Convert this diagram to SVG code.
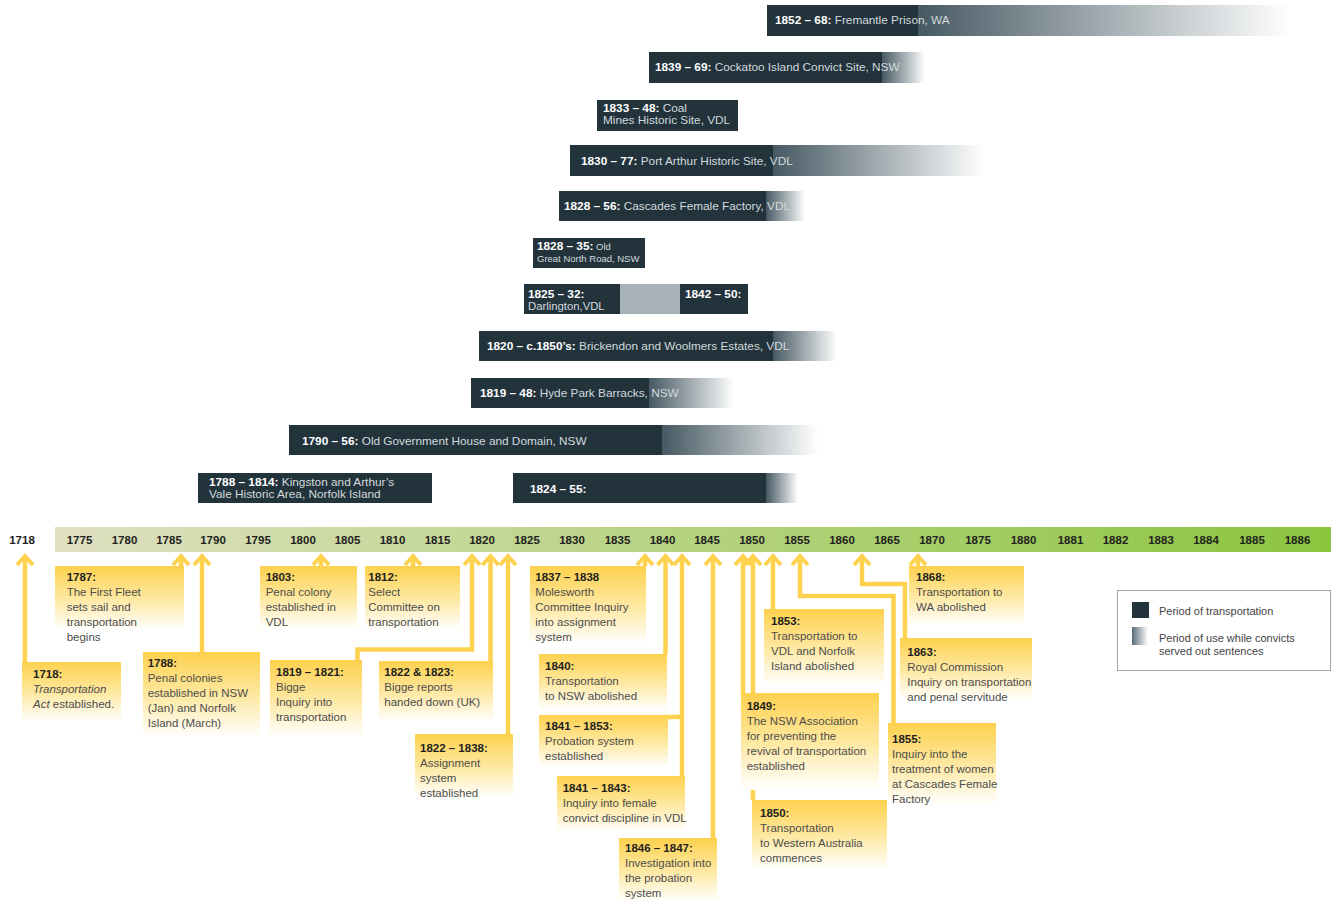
<svg xmlns="http://www.w3.org/2000/svg" width="1334" height="904" viewBox="0 0 1334 904">
<style>
text{font-family:"Liberation Sans",Arial,sans-serif}
.bar{fill:#22333c}
.fade{fill:url(#barFade)}
.bt{font-size:11.8px;fill:#d3dadd}
.bt .b{font-weight:bold;fill:#ffffff}
.bt.sm{font-size:9.5px}
.bt .sm{font-size:9.5px}
.bt.md{font-size:11.3px}
.ax{font-size:11.5px;font-weight:bold;fill:#231f20;text-anchor:middle}
.box{fill:url(#boxFade)}
.ct{font-size:11.5px;fill:#4d4d4d}
.ct .h{font-weight:bold;fill:#231f20}
.ct .i{font-style:italic}
.con{fill:none;stroke:#fed24f;stroke-width:4.5;stroke-linejoin:miter;marker-start:url(#arr)}
.leg{font-size:11px;fill:#444}
</style>
<defs>
<linearGradient id="barFade" x1="0" y1="0" x2="1" y2="0">
<stop offset="0" stop-color="#465963"/>
<stop offset="1" stop-color="#ffffff"/>
</linearGradient>
<linearGradient id="boxFade" x1="0" y1="0" x2="0" y2="1">
<stop offset="0" stop-color="#fed14d"/>
<stop offset="0.55" stop-color="#feeaa8"/>
<stop offset="1" stop-color="#ffffff"/>
</linearGradient>
<linearGradient id="axisGrad" x1="0" y1="0" x2="1" y2="0">
<stop offset="0" stop-color="#dfe0c1"/>
<stop offset="1" stop-color="#8bc53f"/>
</linearGradient>
<linearGradient id="legFade" x1="0" y1="0" x2="1" y2="0">
<stop offset="0" stop-color="#5a6c78"/>
<stop offset="1" stop-color="#ffffff"/>
</linearGradient>
<marker id="arr" markerUnits="userSpaceOnUse" orient="auto-start-reverse" refX="0" refY="0" markerWidth="20" markerHeight="20" overflow="visible">
<path d="M-9,-8 L0,0 L-9,8" fill="none" stroke="#fed24f" stroke-width="4"/>
</marker>
</defs>

<!-- Bars -->
<g id="bar-fremantle">
<rect class="bar" x="767" y="5" width="151" height="31"/>
<rect class="fade" x="918" y="5" width="372" height="31"/>
<text class="bt" x="775" y="24"><tspan class="b">1852 – 68:</tspan> Fremantle Prison, WA</text>
</g>
<g id="bar-cockatoo">
<rect class="bar" x="649" y="52" width="233" height="31"/>
<rect class="fade" x="882" y="52" width="43" height="31"/>
<text class="bt" x="655" y="71"><tspan class="b">1839 – 69:</tspan> Cockatoo Island Convict Site, NSW</text>
</g>
<g id="bar-coalmines">
<rect class="bar" x="597" y="100" width="141" height="31"/>
<text class="bt" x="603" y="111.5"><tspan class="b">1833 – 48:</tspan> Coal</text>
<text class="bt" x="603" y="123.5">Mines Historic Site, VDL</text>
</g>
<g id="bar-portarthur">
<rect class="bar" x="570" y="145" width="203" height="31"/>
<rect class="fade" x="773" y="145" width="212" height="31"/>
<text class="bt" x="581" y="165"><tspan class="b">1830 – 77:</tspan> Port Arthur Historic Site, VDL</text>
</g>
<g id="bar-cascades">
<rect class="bar" x="559" y="191" width="207" height="30"/>
<rect class="fade" x="766" y="191" width="39" height="30"/>
<text class="bt" x="564" y="210"><tspan class="b">1828 – 56:</tspan> Cascades Female Factory, VDL</text>
</g>
<g id="bar-greatnorthroad">
<rect class="bar" x="533" y="238" width="112" height="30"/>
<text class="bt" x="537" y="250"><tspan class="b">1828 – 35:</tspan><tspan class="sm"> Old</tspan></text>
<text class="bt sm" x="537" y="262">Great North Road, NSW</text>
</g>
<g id="bar-darlington">
<rect class="bar" x="524" y="284" width="96" height="30"/>
<rect x="620" y="284" width="60" height="30" fill="#a8b3b9"/>
<rect class="bar" x="680" y="284" width="68" height="30"/>
<text class="bt" x="528" y="298"><tspan class="b">1825 – 32:</tspan></text>
<text class="bt md" x="528" y="310">Darlington,VDL</text>
<text class="bt" x="685" y="298"><tspan class="b">1842 – 50:</tspan></text>
</g>
<g id="bar-brickendon">
<rect class="bar" x="479" y="331" width="294" height="30"/>
<rect class="fade" x="773" y="331" width="64" height="30"/>
<text class="bt" x="487" y="350"><tspan class="b">1820 – c.1850’s:</tspan> Brickendon and Woolmers Estates, VDL</text>
</g>
<g id="bar-hydepark">
<rect class="bar" x="471" y="378" width="178" height="30"/>
<rect class="fade" x="649" y="378" width="85" height="30"/>
<text class="bt" x="480" y="397"><tspan class="b">1819 – 48:</tspan> Hyde Park Barracks, NSW</text>
</g>
<g id="bar-govhouse">
<rect class="bar" x="289" y="425" width="373" height="30"/>
<rect class="fade" x="662" y="425" width="156" height="30"/>
<text class="bt" x="302" y="444.5"><tspan class="b">1790 – 56:</tspan> Old Government House and Domain, NSW</text>
</g>
<g id="bar-kingston">
<rect class="bar" x="198" y="473" width="234" height="30"/>
<text class="bt" x="209" y="486"><tspan class="b">1788 – 1814:</tspan> Kingston and Arthur’s</text>
<text class="bt" x="209" y="498">Vale Historic Area, Norfolk Island</text>
</g>
<g id="bar-1824">
<rect class="bar" x="513" y="473" width="253" height="30"/>
<rect class="fade" x="766" y="473" width="32" height="30"/>
<text class="bt" x="530" y="492.5"><tspan class="b">1824 – 55:</tspan></text>
</g>

<!-- Axis -->
<g id="axis">
<rect x="55" y="527" width="1276" height="25" fill="url(#axisGrad)"/>
<text class="ax" x="22" y="544">1718</text>
<text class="ax" x="79.5" y="544">1775</text>
<text class="ax" x="124.5" y="544">1780</text>
<text class="ax" x="169" y="544">1785</text>
<text class="ax" x="213" y="544">1790</text>
<text class="ax" x="258" y="544">1795</text>
<text class="ax" x="303" y="544">1800</text>
<text class="ax" x="347.5" y="544">1805</text>
<text class="ax" x="392.5" y="544">1810</text>
<text class="ax" x="437.5" y="544">1815</text>
<text class="ax" x="482" y="544">1820</text>
<text class="ax" x="527" y="544">1825</text>
<text class="ax" x="572" y="544">1830</text>
<text class="ax" x="617.5" y="544">1835</text>
<text class="ax" x="662.5" y="544">1840</text>
<text class="ax" x="707" y="544">1845</text>
<text class="ax" x="752" y="544">1850</text>
<text class="ax" x="797" y="544">1855</text>
<text class="ax" x="842" y="544">1860</text>
<text class="ax" x="887" y="544">1865</text>
<text class="ax" x="932" y="544">1870</text>
<text class="ax" x="978" y="544">1875</text>
<text class="ax" x="1023.5" y="544">1880</text>
<text class="ax" x="1070.5" y="544">1881</text>
<text class="ax" x="1115.5" y="544">1882</text>
<text class="ax" x="1161" y="544">1883</text>
<text class="ax" x="1206" y="544">1884</text>
<text class="ax" x="1252" y="544">1885</text>
<text class="ax" x="1297.5" y="544">1886</text>
</g>

<!-- Connectors -->
<g id="connectors">
<path class="con" d="M25 556 V662"/>
<path class="con" d="M181 556 V566"/>
<path class="con" d="M202 556 V652"/>
<path class="con" d="M321 556 V566"/>
<path class="con" d="M413 556 V566"/>
<path class="con" d="M472 556 V649.5 H357.5 V660"/>
<path class="con" d="M490.5 556 V661"/>
<path class="con" d="M508 556 V734"/>
<path class="con" d="M645 556 V566"/>
<path class="con" d="M665.5 556 V654"/>
<path class="con" d="M682 556 V776 M682 717 H664"/>
<path class="con" d="M713 556 V838"/>
<path class="con" d="M743 556 V693"/>
<path class="con" d="M753 556 V800"/>
<path class="con" d="M773 556 V609"/>
<path class="con" d="M800 556 V596 H893.5 V723"/>
<path class="con" d="M862 556 V584 H905 V638"/>
<path class="con" d="M918 556 V566"/>
</g>

<!-- Callouts -->
<g id="ev-1718">
<rect class="box" x="22" y="662" width="99" height="60"/>
<text class="ct" x="33" y="678"><tspan class="h">1718:</tspan><tspan class="i" x="33" dy="15">Transportation</tspan><tspan x="33" dy="15"><tspan class="i">Act</tspan> established.</tspan></text>
</g>
<g id="ev-1787">
<rect class="box" x="55" y="566" width="129" height="64"/>
<text class="ct" x="66.7" y="581"><tspan class="h">1787:</tspan><tspan x="66.7" dy="15">The First Fleet</tspan><tspan x="66.7" dy="15">sets sail and</tspan><tspan x="66.7" dy="15">transportation</tspan><tspan x="66.7" dy="15">begins</tspan></text>
</g>
<g id="ev-1788">
<rect class="box" x="143" y="652" width="117" height="85"/>
<text class="ct" x="147.7" y="667"><tspan class="h">1788:</tspan><tspan x="147.7" dy="15">Penal colonies</tspan><tspan x="147.7" dy="15">established in NSW</tspan><tspan x="147.7" dy="15">(Jan) and Norfolk</tspan><tspan x="147.7" dy="15">Island (March)</tspan></text>
</g>
<g id="ev-1803">
<rect class="box" x="260" y="566" width="97" height="64"/>
<text class="ct" x="265.7" y="581"><tspan class="h">1803:</tspan><tspan x="265.7" dy="15">Penal colony</tspan><tspan x="265.7" dy="15">established in</tspan><tspan x="265.7" dy="15">VDL</tspan></text>
</g>
<g id="ev-1812">
<rect class="box" x="365" y="566" width="95" height="64"/>
<text class="ct" x="368.3" y="581"><tspan class="h">1812:</tspan><tspan x="368.3" dy="15">Select</tspan><tspan x="368.3" dy="15">Committee on</tspan><tspan x="368.3" dy="15">transportation</tspan></text>
</g>
<g id="ev-1819">
<rect class="box" x="270" y="660" width="92" height="77"/>
<text class="ct" x="276" y="676"><tspan class="h">1819 – 1821:</tspan><tspan x="276" dy="15">Bigge</tspan><tspan x="276" dy="15">Inquiry into</tspan><tspan x="276" dy="15">transportation</tspan></text>
</g>
<g id="ev-1822-1823">
<rect class="box" x="379" y="661" width="114" height="61"/>
<text class="ct" x="384.3" y="676"><tspan class="h">1822 &amp; 1823:</tspan><tspan x="384.3" dy="15">Bigge reports</tspan><tspan x="384.3" dy="15">handed down (UK)</tspan></text>
</g>
<g id="ev-1822-1838">
<rect class="box" x="415" y="734" width="98" height="64"/>
<text class="ct" x="420" y="752"><tspan class="h">1822 – 1838:</tspan><tspan x="420" dy="15">Assignment</tspan><tspan x="420" dy="15">system</tspan><tspan x="420" dy="15">established</tspan></text>
</g>
<g id="ev-1837">
<rect class="box" x="530" y="566" width="116" height="78"/>
<text class="ct" x="535.3" y="581"><tspan class="h">1837 – 1838</tspan><tspan x="535.3" dy="15">Molesworth</tspan><tspan x="535.3" dy="15">Committee Inquiry</tspan><tspan x="535.3" dy="15">into assignment</tspan><tspan x="535.3" dy="15">system</tspan></text>
</g>
<g id="ev-1840">
<rect class="box" x="539" y="654" width="128" height="56"/>
<text class="ct" x="545" y="670"><tspan class="h">1840:</tspan><tspan x="545" dy="15">Transportation</tspan><tspan x="545" dy="15">to NSW abolished</tspan></text>
</g>
<g id="ev-1841-1853">
<rect class="box" x="539" y="715" width="129" height="53"/>
<text class="ct" x="545" y="730"><tspan class="h">1841 – 1853:</tspan><tspan x="545" dy="15">Probation system</tspan><tspan x="545" dy="15">established</tspan></text>
</g>
<g id="ev-1841-1843">
<rect class="box" x="557" y="776" width="128" height="56"/>
<text class="ct" x="562.7" y="792"><tspan class="h">1841 – 1843:</tspan><tspan x="562.7" dy="15">Inquiry into female</tspan><tspan x="562.7" dy="15">convict discipline in VDL</tspan></text>
</g>
<g id="ev-1846">
<rect class="box" x="619" y="838" width="98" height="64"/>
<text class="ct" x="625" y="852"><tspan class="h">1846 – 1847:</tspan><tspan x="625" dy="15">Investigation into</tspan><tspan x="625" dy="15">the probation</tspan><tspan x="625" dy="15">system</tspan></text>
</g>
<g id="ev-1849">
<rect class="box" x="741" y="693" width="138" height="97"/>
<text class="ct" x="746.7" y="710"><tspan class="h">1849:</tspan><tspan x="746.7" dy="15">The NSW Association</tspan><tspan x="746.7" dy="15">for preventing the</tspan><tspan x="746.7" dy="15">revival of transportation</tspan><tspan x="746.7" dy="15">established</tspan></text>
</g>
<g id="ev-1850">
<rect class="box" x="752" y="800" width="135" height="70"/>
<text class="ct" x="760" y="817"><tspan class="h">1850:</tspan><tspan x="760" dy="15">Transportation</tspan><tspan x="760" dy="15">to Western Australia</tspan><tspan x="760" dy="15">commences</tspan></text>
</g>
<g id="ev-1853">
<rect class="box" x="764" y="609" width="120" height="76"/>
<text class="ct" x="771" y="625"><tspan class="h">1853:</tspan><tspan x="771" dy="15">Transportation to</tspan><tspan x="771" dy="15">VDL and Norfolk</tspan><tspan x="771" dy="15">Island abolished</tspan></text>
</g>
<g id="ev-1855">
<rect class="box" x="888" y="723" width="108" height="82"/>
<text class="ct" x="892" y="743"><tspan class="h">1855:</tspan><tspan x="892" dy="15">Inquiry into the</tspan><tspan x="892" dy="15">treatment of women</tspan><tspan x="892" dy="15">at Cascades Female</tspan><tspan x="892" dy="15">Factory</tspan></text>
</g>
<g id="ev-1863">
<rect class="box" x="900" y="638" width="132" height="62"/>
<text class="ct" x="907.3" y="656"><tspan class="h">1863:</tspan><tspan x="907.3" dy="15">Royal Commission</tspan><tspan x="907.3" dy="15">Inquiry on transportation</tspan><tspan x="907.3" dy="15">and penal servitude</tspan></text>
</g>
<g id="ev-1868">
<rect class="box" x="909" y="566" width="115" height="59"/>
<text class="ct" x="916" y="581"><tspan class="h">1868:</tspan><tspan x="916" dy="15">Transportation to</tspan><tspan x="916" dy="15">WA abolished</tspan></text>
</g>

<!-- Legend -->
<g id="legend">
<rect x="1117.5" y="590.5" width="213" height="80" fill="#ffffff" stroke="#a6a6a6" stroke-width="1"/>
<rect x="1132" y="602" width="17" height="16" fill="#22333c"/>
<rect x="1132" y="627" width="16" height="18" fill="url(#legFade)"/>
<text class="leg" x="1159" y="614.5">Period of transportation</text>
<text class="leg" x="1159" y="641.5">Period of use while convicts</text>
<text class="leg" x="1159" y="654.5">served out sentences</text>
</g>
</svg>
